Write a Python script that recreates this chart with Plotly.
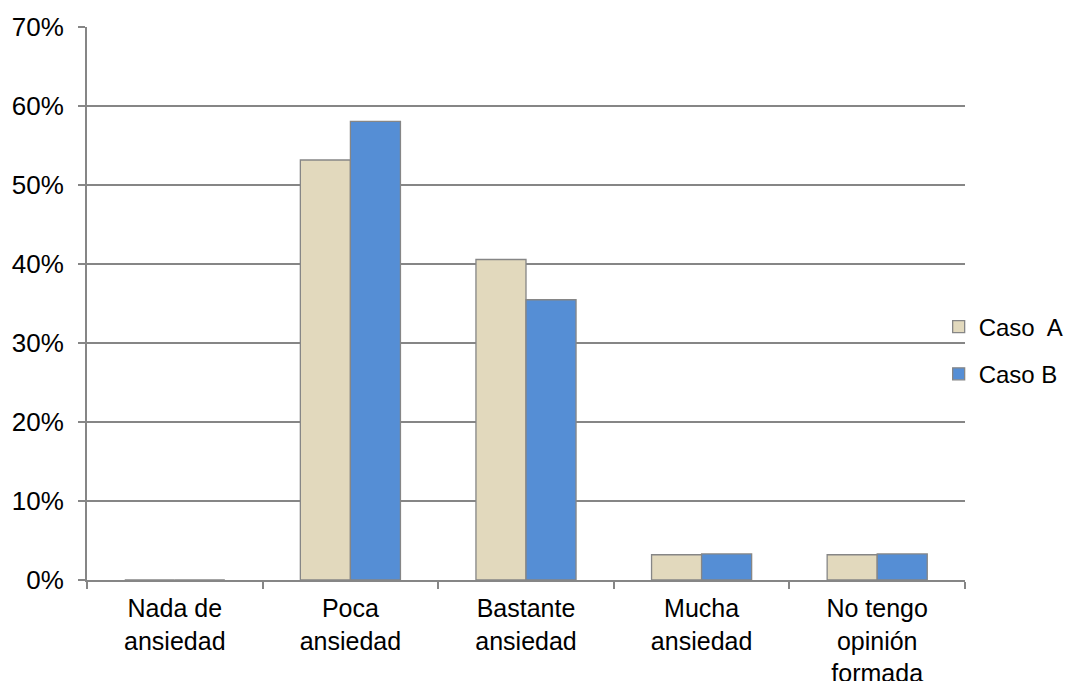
import plotly.graph_objects as go

categories = ["Nada de<br>ansiedad", "Poca<br>ansiedad", "Bastante<br>ansiedad", "Mucha<br>ansiedad", "No tengo<br>opinión<br>formada"]
caso_a = [0.0, 0.532, 0.406, 0.032, 0.032]
caso_b = [0.0, 0.581, 0.355, 0.033, 0.033]
series_names = ["Caso  A", "Caso B"]
y_ticks = [0, 0.1, 0.2, 0.3, 0.4, 0.5, 0.6, 0.7]

font = dict(family="Liberation Sans, Arial, sans-serif", size=26, color="#000000")
xfont = dict(family="Liberation Sans, Arial, sans-serif", size=25, color="#000000")
legend_font = dict(family="Liberation Sans, Arial, sans-serif", size=24, color="#000000")
border = dict(color="#868686", width=1.3)

fig = go.Figure()
fig.add_trace(go.Bar(x=categories, y=caso_a, name=series_names[0], legendgroup="a",
                     marker=dict(color="#e2d9bd", line=border)))
fig.add_trace(go.Bar(x=categories, y=caso_b, name=series_names[1], legendgroup="b",
                     marker=dict(color="#558ed5", line=border)))

fig.update_layout(
    width=1078, height=681,
    margin=dict(l=87, r=113, t=27, b=101, autoexpand=False),
    paper_bgcolor="white", plot_bgcolor="white",
    font=font,
    barmode="group", bargap=0.43, bargroupgap=0,
    legend=dict(x=0.970, y=0.415, xanchor="left", yanchor="middle",
                font=legend_font, traceorder="grouped", tracegroupgap=13,
                itemwidth=30, bgcolor="rgba(0,0,0,0)"),
    showlegend=True,
)
fig.update_xaxes(
    showline=True, linecolor="#868686", linewidth=2,
    ticks="outside", tickson="boundaries", ticklen=7, tickcolor="#868686", tickwidth=2,
    ticklabelstandoff=5,
    showgrid=False, tickfont=xfont,
)
fig.update_yaxes(
    range=[0, 0.7005], tickvals=y_ticks, tickformat=".0%",
    showline=True, linecolor="#868686", linewidth=2,
    ticks="outside", ticklen=7, tickcolor="#868686", tickwidth=2,
    ticklabelstandoff=9,
    showgrid=True, gridcolor="#868686", gridwidth=2,
    zeroline=False, tickfont=font,
)

fig.write_html("out.html")
